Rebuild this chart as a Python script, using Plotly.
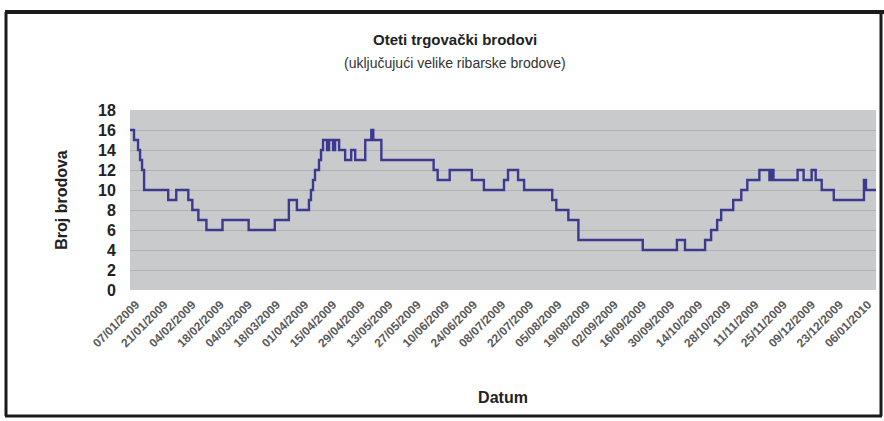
import plotly.graph_objects as go
import pandas as pd

# change points (date, number of hijacked ships)
dates = [
    "2009-01-07", "2009-01-09", "2009-01-11", "2009-01-12", "2009-01-13", "2009-01-14",
    "2009-01-26", "2009-01-30", "2009-02-05", "2009-02-07", "2009-02-10", "2009-02-14",
    "2009-02-22", "2009-03-07", "2009-03-20", "2009-03-27", "2009-03-31", "2009-04-06",
    "2009-04-07", "2009-04-08", "2009-04-09", "2009-04-11", "2009-04-12", "2009-04-13",
    "2009-04-15", "2009-04-16", "2009-04-18", "2009-04-19", "2009-04-21", "2009-04-24",
    "2009-04-27", "2009-04-29", "2009-05-04", "2009-05-07", "2009-05-08", "2009-05-12",
    "2009-06-07", "2009-06-09", "2009-06-15", "2009-06-26", "2009-07-02", "2009-07-12",
    "2009-07-14", "2009-07-19", "2009-07-22", "2009-08-05", "2009-08-07", "2009-08-13",
    "2009-08-18", "2009-09-19", "2009-10-06", "2009-10-10", "2009-10-20", "2009-10-23",
    "2009-10-26", "2009-10-28", "2009-11-03", "2009-11-07", "2009-11-10", "2009-11-16",
    "2009-11-21", "2009-11-22", "2009-11-23", "2009-12-05", "2009-12-08", "2009-12-12",
    "2009-12-14", "2009-12-17", "2009-12-23", "2010-01-07", "2010-01-08", "2010-01-13",
]
values = [
    16, 15, 14, 13, 12, 10,
    9, 10, 9, 8, 7, 6,
    7, 6, 7, 9, 8, 9,
    10, 11, 12, 13, 14, 15,
    14, 15, 14, 15, 14, 13,
    14, 13, 15, 16, 15, 13,
    12, 11, 12, 11, 10, 11,
    12, 11, 10, 9, 8, 7,
    5, 4, 5, 4, 5, 6,
    7, 8, 9, 10, 11, 12,
    11, 12, 11, 12, 11, 12,
    11, 10, 9, 11, 10, 10,
]

tick_dates = pd.date_range("2009-01-07", "2010-01-06", freq="14D")
tick_labels = [d.strftime("%d/%m/%Y") for d in tick_dates]
y_ticks = list(range(0, 19, 2))

title_text = "Oteti trgovački brodovi"
subtitle_text = "(uključujući velike ribarske brodove)"
x_title = "Datum"
y_title = "Broj brodova"

fig = go.Figure()
fig.add_trace(go.Scatter(
    x=pd.to_datetime(dates), y=values, mode="lines",
    line=dict(color="#3b3a8e", width=2.4, shape="hv"),
    hoverinfo="x+y", showlegend=False,
))

font_family = "Liberation Sans, Arial, sans-serif"

W, H = 884, 421
ML, MR, MT, MB = 130, 8, 110, 131
PW = W - ML - MR
PH = H - MT - MB

def px_x(sx):
    return (sx - ML) / PW

def px_y(sy):
    return (H - MB - sy) / PH

frame = dict(color="#1a1a1a", width=3)

fig.update_layout(
    width=W, height=H,
    margin=dict(l=ML, r=MR, t=MT, b=MB),
    paper_bgcolor="white",
    plot_bgcolor="#c9cacc",
    font=dict(family=font_family, color="#222"),
    xaxis=dict(
        range=["2009-01-07", "2010-01-13"],
        tickvals=tick_dates, ticktext=tick_labels,
        tickangle=-45, ticklabelshift=6,
        tickfont=dict(size=12, color="#5a5a5a", family=font_family, weight="bold"),
        showgrid=False, zeroline=False,
        showline=False, ticks="outside", ticklen=2, tickcolor="rgba(0,0,0,0)",
        title=dict(text=x_title, font=dict(size=16, color="#222", weight="bold"), standoff=42),
    ),
    yaxis=dict(
        range=[0, 18], tickvals=y_ticks,
        tickfont=dict(size=16, color="#222", family=font_family, weight="bold"),
        showgrid=True, gridcolor="#b0b1b3", gridwidth=1,
        zeroline=False, showline=False,
        ticks="outside", ticklen=10, tickcolor="rgba(0,0,0,0)",
        title=dict(text=y_title, font=dict(size=16, color="#222", weight="bold"), standoff=26),
    ),
    annotations=[
        dict(text=title_text, xref="paper", yref="paper",
             x=0.435, y=1.0, yshift=81, showarrow=False,
             font=dict(size=15, color="#222", weight="bold")),
        dict(text=subtitle_text, xref="paper", yref="paper",
             x=0.435, y=1.0, yshift=57, showarrow=False,
             font=dict(size=14, color="#333")),
    ],
    shapes=[
        dict(type="line", xref="paper", yref="paper",
             x0=px_x(5), x1=px_x(884), y0=px_y(12), y1=px_y(12),
             line=dict(color="#1a1a1a", width=4)),
        dict(type="line", xref="paper", yref="paper",
             x0=px_x(6), x1=px_x(6), y0=px_y(12), y1=px_y(416),
             line=frame),
        dict(type="line", xref="paper", yref="paper",
             x0=px_x(5), x1=px_x(882), y0=px_y(416), y1=px_y(416),
             line=frame),
        dict(type="line", xref="paper", yref="paper",
             x0=px_x(881), x1=px_x(881), y0=px_y(12), y1=px_y(416),
             line=frame),
    ],
)

fig.write_html(
    "out.html",
    config={"displayModeBar": False},
    post_script="document.body.style.margin='0';document.body.style.overflow='hidden';",
)
